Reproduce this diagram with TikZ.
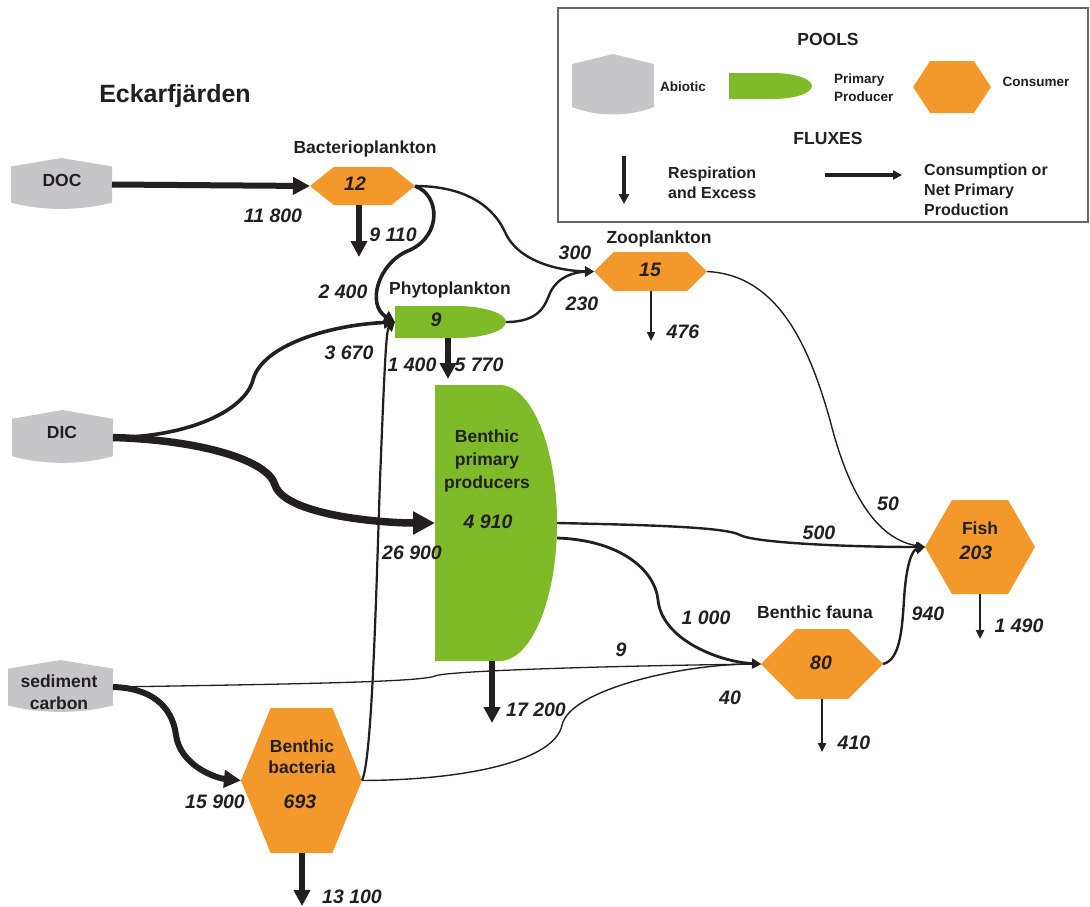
\documentclass[tikz,border=0pt]{standalone}
\usepackage{fontspec}
\setmainfont{Liberation Sans}
\usetikzlibrary{arrows.meta,calc}
\definecolor{ink}{HTML}{231F20}
\definecolor{poolgray}{HTML}{C6C6C8}
\definecolor{prodgreen}{HTML}{7FBA28}
\definecolor{consorange}{HTML}{F3982A}
\tikzset{
  corners/.style={inner sep=0pt,outer sep=0pt},
  % the pool shapes fill the box of an empty node
  abiotic/.style={corners,path picture={
      \path (path picture bounding box.north west) coordinate (pnw)
            (path picture bounding box.north east) coordinate (pne)
            (path picture bounding box.south west) coordinate (psw)
            (path picture bounding box.south east) coordinate (pse);
      \fill[poolgray] ($(pnw)!.16!(psw)$) -- ($(pnw)!.5!(pne)$) -- ($(pne)!.16!(pse)$)
        -- ($(pse)!.16!(pne)$) .. controls ($(pse)!.3!(psw)$) and ($(psw)!.3!(pse)$) .. ($(psw)!.16!(pnw)$) -- cycle;}},
  producer/.style={corners,path picture={
      \path (path picture bounding box.north west) coordinate (pnw)
            (path picture bounding box.north east) coordinate (pne)
            (path picture bounding box.south west) coordinate (psw)
            (path picture bounding box.south east) coordinate (pse)
            ($(pne)!.5!(pse)$) coordinate (pe)
            ($(pnw)!#1!(pne)$) coordinate (ptop)
            ($(psw)!#1!(pse)$) coordinate (pbot);
      \fill[prodgreen] (pnw) -- (ptop) .. controls ($(ptop)!.552!(pne)$) and ($(pe)!.552!(pne)$) .. (pe)
        .. controls ($(pe)!.552!(pse)$) and ($(pbot)!.552!(pse)$) .. (pbot) -- (psw) -- cycle;}},
  consumer/.style={corners,path picture={
      \path (path picture bounding box.north west) coordinate (pnw)
            (path picture bounding box.north east) coordinate (pne)
            (path picture bounding box.south west) coordinate (psw)
            (path picture bounding box.south east) coordinate (pse);
      \fill[consorange] ($(pnw)!.5!(psw)$) -- ($(pnw)!#1!(pne)$) -- ($(pne)!#1!(pnw)$) -- ($(pne)!.5!(pse)$)
        -- ($(pse)!#1!(psw)$) -- ($(psw)!#1!(pse)$) -- cycle;}},
}
\begin{document}
\begin{tikzpicture}[x=1pt,y=-1pt,
    every node/.style={text=ink},
    nodetxt/.style={font=\fontsize{17.5}{22}\selectfont\bfseries,align=center,inner sep=0pt},
    numtxt/.style={font=\fontsize{19.5}{22}\selectfont\bfseries\itshape,inner sep=0pt},
    legtxt/.style={font=\fontsize{13.5}{18}\selectfont\bfseries,align=left,inner sep=0pt},
    legtxtb/.style={font=\fontsize{16}{20}\selectfont\bfseries,align=left,inner sep=0pt},
    flowhuge/.style={draw=ink,line width=7.5pt,-{Triangle[length=22pt,width=22pt]}},
    flowheavy/.style={draw=ink,line width=6pt,-{Triangle[length=17pt,width=17pt]}},
    flowmed/.style={draw=ink,line width=3.6pt,-{Triangle[length=11pt,width=12pt]}},
    flowlight/.style={draw=ink,line width=2.4pt,-{Triangle[length=9pt,width=10pt]}},
    flowthin/.style={draw=ink,line width=1.4pt,-{Triangle[length=8pt,width=8pt]}},
    respthick/.style={draw=ink,line width=5.5pt,-{Triangle[length=16pt,width=16pt]}},
    respthin/.style={draw=ink,line width=2.2pt,-{Triangle[length=9pt,width=8pt]}}]
\useasboundingbox (0,0) rectangle (1090,906);

% legend
\draw[line width=1.2pt,black!60] (558,8) rectangle (1088,222);
\node[nodetxt] (pools) at (828,39) {POOLS};
\node[abiotic,minimum width=82pt,minimum height=63pt] (legabio) at (613,85.5) {};
\node[legtxt] (abiolbl) at (683,87) {Abiotic};
\node[producer=.53,minimum width=83pt,minimum height=26pt] (legprod) at (770.5,86) {};
\node[legtxt,anchor=west] (prodlbl) at (834,88) {Primary\\Producer};
\node[consumer=.22,minimum width=78pt,minimum height=52pt] (legcons) at (952,87) {};
\node[legtxt] (conslbl) at (1036,82) {Consumer};
\node[nodetxt] (fluxes) at (828,138) {FLUXES};
\coordinate (legdowna) at (624,156);
\coordinate (legdownb) at (624,204);
\draw[draw=ink,line width=3.5pt,-{Triangle[length=10pt,width=10pt]}] (legdowna) -- (legdownb);
\node[legtxtb,anchor=west] (resplbl) at (668,183) {Respiration\\and Excess};
\coordinate (legrighta) at (825,175);
\coordinate (legrightb) at (902,175);
\draw[draw=ink,line width=4pt,-{Triangle[length=9pt,width=9pt]}] (legrighta) -- (legrightb);
\node[legtxtb,anchor=west] (npplbl) at (924,190) {Consumption or\\Net Primary\\Production};

\node[font=\fontsize{25}{28}\selectfont\bfseries,inner sep=0pt] (site) at (175,96) {Eckarfjärden};

% pools
\node[abiotic,minimum width=101pt,minimum height=53pt] (doc) at (61.5,184.5) {};
\node[abiotic,minimum width=101pt,minimum height=55pt] (dic) at (62.5,437.5) {};
\node[abiotic,minimum width=105pt,minimum height=54pt] (sed) at (60.5,687) {};
\node[consumer=.225,minimum width=105pt,minimum height=38pt] (bac) at (362.5,186) {};
\node[consumer=.175,minimum width=113pt,minimum height=39pt] (zoo) at (650.5,271.5) {};
\node[producer=.55,minimum width=111pt,minimum height=32pt] (phy) at (450.5,322) {};
\node[producer=.53,minimum width=122pt,minimum height=276pt] (bpp) at (496,523) {};
\node[consumer=.245,minimum width=121pt,minimum height=145pt] (bb) at (301.5,780.5) {};
\node[consumer=.285,minimum width=122pt,minimum height=70pt] (bf) at (822,664) {};
\node[consumer=.245,minimum width=110pt,minimum height=94pt] (fish) at (980,547) {};

% fluxes between pools
\draw[flowheavy] (doc.east) -- (bac.west);
\draw[flowmed] (bac.east) .. controls (440,195) and (442,235) .. (410,250)
  .. controls (378,262) and (366,305) .. (phy.west);
\draw[flowlight] (bac.east) .. controls (470,186) and (495,210) .. (505,232)
  .. controls (518,262) and (560,271) .. (zoo.west);
\draw[flowlight] (phy.east) .. controls (540,322) and (545,305) .. (550,293)
  .. controls (558,276) and (575,272) .. (zoo.west);
\draw[flowthin] (zoo.east) .. controls (780,275) and (810,350) .. (830,420)
  .. controls (850,500) and (880,540) .. (fish.west);
\draw[flowmed] (dic.east) .. controls (190,437) and (245,410) .. (253,380)
  .. controls (262,345) and (330,325) .. (phy.west);
\draw[flowhuge] (dic.east) .. controls (200,440) and (268,460) .. (275,485)
  .. controls (285,515) and (380,523) .. (bpp.west);
\draw[flowlight,line width=2.2pt] (bb.east) .. controls (372,760) and (376,600) .. (380,480)
  .. controls (384,380) and (386,330) .. (phy.west);
\draw[flowlight] (bpp.east) .. controls (650,525) and (725,527) .. (740,535)
  .. controls (755,543) and (850,547) .. (fish.west);
\draw[flowlight,line width=2.8pt] ([yshift=-15pt]bpp.east) .. controls (620,540) and (655,570) .. (658,600)
  .. controls (662,640) and (720,662) .. (bf.west);
\draw[flowthin,line width=1.3pt] (sed.east) .. controls (300,684) and (420,682) .. (435,676)
  .. controls (445,671) and (600,666) .. (bf.west);
\draw[flowheavy] (sed.east) .. controls (150,688) and (172,705) .. (176,735)
  .. controls (180,765) and (215,778) .. (bb.west);
\draw[flowthin] (bb.east) .. controls (470,780) and (555,760) .. (562,725)
  .. controls (570,690) and (680,664) .. (bf.west);
\draw[flowlight] (bf.east) .. controls (900,660) and (902,630) .. (904,600)
  .. controls (906,565) and (912,550) .. (fish.west);

% respiration and excess
\coordinate (bacout) at (359,257);
\draw[respthick] (bacout |- bac.south) -- (bacout);
\coordinate (phyout) at (448,379);
\draw[respthick] (phyout |- phy.south) -- (phyout);
\coordinate (zooout) at (651,341);
\draw[respthin] (zooout |- zoo.south) -- (zooout);
\coordinate (bppout) at (492,723);
\draw[respthick] (bppout |- bpp.south) -- (bppout);
\coordinate (bbout) at (302,906);
\draw[respthick] (bbout |- bb.south) -- (bbout);
\coordinate (bfout) at (822,752);
\draw[respthin] (bfout |- bf.south) -- (bfout);
\coordinate (fishout) at (980,639);
\draw[respthin,line width=2.6pt] (fishout |- fish.south) -- (fishout);

% names and pool sizes
\node[nodetxt] (doctxt) at (62,180) {DOC};
\node[nodetxt] (dictxt) at (62,432) {DIC};
\node[nodetxt] (sedtxt) at (59,692) {sediment\\carbon};
\node[nodetxt] (bactxt) at (365,149) {Bacterioplankton};
\node[nodetxt] (zootxt) at (659,239) {Zooplankton};
\node[nodetxt] (phytxt) at (450,290) {Phytoplankton};
\node[nodetxt,font=\fontsize{17.5}{23}\selectfont\bfseries] (bpptxt) at (487,461) {Benthic\\primary\\producers};
\node[nodetxt,font=\fontsize{17.5}{21}\selectfont\bfseries] (bbtxt) at (302,757) {Benthic\\bacteria};
\node[nodetxt] (bftxt) at (815,612) {Benthic fauna};
\node[nodetxt] (fishtxt) at (980,528) {Fish};
\node[numtxt] (n12) at (355,184) {12};
\node[numtxt] (n15) at (650,270) {15};
\node[numtxt] (n9) at (436,320) {9};
\node[numtxt] (n4910) at (488,522) {4 910};
\node[numtxt] (n693) at (300,802) {693};
\node[numtxt] (n80) at (821,663) {80};
\node[numtxt] (n203) at (976,553) {203};

% flux values
\node[numtxt] (f11800) at (273,216) {11 800};
\node[numtxt] (f9110) at (393,235) {9 110};
\node[numtxt] (f2400) at (343,292) {2 400};
\node[numtxt] (f3670) at (349,353) {3 670};
\node[numtxt] (f1400) at (412,365) {1 400};
\node[numtxt] (f5770) at (479,365) {5 770};
\node[numtxt] (f300) at (575,253) {300};
\node[numtxt] (f230) at (582,304) {230};
\node[numtxt] (f476) at (683,332) {476};
\node[numtxt] (f26900) at (412,553) {26 900};
\node[numtxt] (f9) at (621,650) {9};
\node[numtxt] (f40) at (730,698) {40};
\node[numtxt] (f1000) at (706,618) {1 000};
\node[numtxt] (f500) at (819,533) {500};
\node[numtxt] (f50) at (888,504) {50};
\node[numtxt] (f940) at (928,614) {940};
\node[numtxt] (f1490) at (1019,626) {1 490};
\node[numtxt] (f410) at (854,743) {410};
\node[numtxt] (f17200) at (536,710) {17 200};
\node[numtxt] (f15900) at (215,802) {15 900};
\node[numtxt] (f13100) at (352,897) {13 100};
\end{tikzpicture}
\end{document}
